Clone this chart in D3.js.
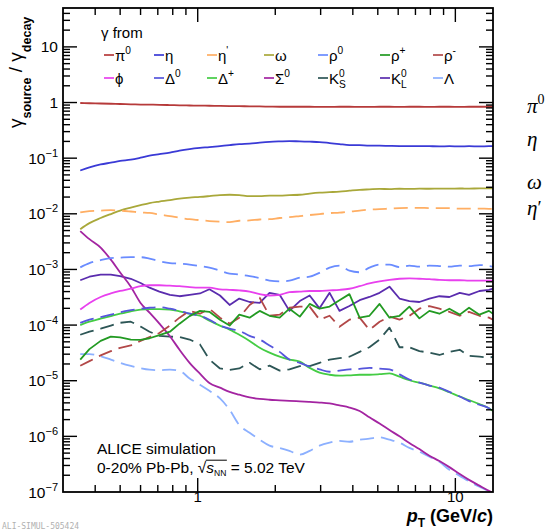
<!DOCTYPE html>
<html><head><meta charset="utf-8">
<script src="https://cdn.jsdelivr.net/npm/d3@7"></script>
<style>
body{margin:0;background:#fff;}
svg text{font-family:"Liberation Sans",Arial,Helvetica,sans-serif;fill:#000;}
</style>
</head><body>
<svg id="c" width="553" height="531"></svg>
<script>
// ---------------- data ----------------
const pT = [0.35,0.38,0.42,0.46,0.50,0.55,0.60,0.65,0.71,0.78,0.85,0.93,1.02,1.11,1.22,1.33,1.45,1.59,1.74,1.90,2.08,2.27,2.49,2.72,2.97,3.25,3.55,3.88,4.25,4.64,5.08,5.55,6.07,6.63,7.25,7.93,8.67,9.48,10.4,11.3,12.4,13.5,14.0];

const pi0 = [0.98,0.97,0.96,0.95,0.94,0.93,0.92,0.915,0.91,0.90,0.89,0.885,0.88,0.875,0.87,0.865,0.86,0.855,0.85,0.845,0.84,0.84,0.84,0.84,0.835,0.835,0.84,0.84,0.835,0.835,0.84,0.84,0.835,0.84,0.84,0.835,0.84,0.84,0.835,0.84,0.84,0.84,0.84];
const eta = [0.060,0.068,0.077,0.083,0.089,0.094,0.102,0.111,0.118,0.126,0.137,0.146,0.153,0.158,0.165,0.172,0.179,0.183,0.19,0.196,0.2,0.203,0.2,0.198,0.195,0.187,0.179,0.172,0.171,0.168,0.168,0.166,0.165,0.164,0.165,0.164,0.163,0.164,0.163,0.164,0.163,0.164,0.164];
const etaPrime = [1.06e-2,1.12e-2,1.14e-2,1.16e-2,1.14e-2,1.1e-2,1.06e-2,1.04e-2,9.7e-3,9.1e-3,8.5e-3,8.0e-3,7.7e-3,7.4e-3,7.2e-3,7.1e-3,7.5e-3,7.6e-3,7.9e-3,8.0e-3,8.4e-3,8.7e-3,9.1e-3,9.5e-3,9.9e-3,1.03e-2,1.05e-2,1.1e-2,1.14e-2,1.19e-2,1.21e-2,1.24e-2,1.27e-2,1.28e-2,1.28e-2,1.27e-2,1.27e-2,1.26e-2,1.24e-2,1.24e-2,1.24e-2,1.23e-2,1.23e-2];
const omega = [5.3e-3,6.8e-3,8.4e-3,9.9e-3,1.14e-2,1.29e-2,1.43e-2,1.56e-2,1.66e-2,1.76e-2,1.88e-2,1.96e-2,2.01e-2,2.08e-2,2.17e-2,2.2e-2,2.17e-2,2.08e-2,2.08e-2,2.13e-2,2.13e-2,2.17e-2,2.2e-2,2.31e-2,2.4e-2,2.45e-2,2.5e-2,2.6e-2,2.7e-2,2.75e-2,2.8e-2,2.78e-2,2.82e-2,2.8e-2,2.83e-2,2.82e-2,2.84e-2,2.83e-2,2.85e-2,2.84e-2,2.86e-2,2.86e-2,2.86e-2];
const rho0 = [1.09e-3,1.3e-3,1.47e-3,1.6e-3,1.63e-3,1.66e-3,1.66e-3,1.56e-3,1.41e-3,1.3e-3,1.27e-3,1.22e-3,1.15e-3,1.08e-3,9.5e-4,8.4e-4,8.1e-4,7.6e-4,7.0e-4,6.3e-4,6.1e-4,6.3e-4,7.1e-4,7.4e-4,8.7e-4,1.08e-3,1.17e-3,9.5e-4,8.9e-4,1.08e-3,1.22e-3,1.22e-3,1.1e-3,1.17e-3,1.12e-3,1.17e-3,1.15e-3,1.12e-3,1.17e-3,1.15e-3,1.2e-3,1.15e-3,1.12e-3];
const rhoPlus = [2.4e-5,3.7e-5,5.2e-5,6.2e-5,6.0e-5,5.5e-5,5.4e-5,5.8e-5,6.6e-5,7.6e-5,1.06e-4,1.45e-4,1.8e-4,1.73e-4,1.25e-4,9.8e-5,1.54e-4,1.36e-4,1.8e-4,1.47e-4,1.36e-4,1.97e-4,1.42e-4,2.4e-4,1.97e-4,2.15e-4,2.8e-4,3.6e-4,1.36e-4,1.47e-4,2.4e-4,1.36e-4,1.47e-4,2.15e-4,1.32e-4,1.8e-4,1.6e-4,1.97e-4,1.54e-4,2.05e-4,1.54e-4,1.8e-4,1.6e-4];
const rhoMinus = [1.86e-5,2.25e-5,2.85e-5,3.4e-5,3.9e-5,4.3e-5,5.2e-5,6.1e-5,7.2e-5,9.8e-5,1.36e-4,1.8e-4,1.6e-4,1.97e-4,1.36e-4,1.06e-4,1.36e-4,2.3e-4,3.1e-4,1.47e-4,1.54e-4,2.05e-4,2.15e-4,2.15e-4,1.25e-4,1.47e-4,9.3e-5,1.25e-4,1.36e-4,8.2e-5,1.15e-4,1.42e-4,1.25e-4,1.47e-4,1.97e-4,2.2e-4,1.97e-4,1.73e-4,1.47e-4,1.73e-4,1.47e-4,1.36e-4,1.25e-4];
const phi = [1.9e-4,2.5e-4,3.2e-4,3.7e-4,4.1e-4,4.5e-4,5.0e-4,5.2e-4,5.2e-4,5.1e-4,5.0e-4,4.8e-4,4.7e-4,4.7e-4,4.4e-4,4.3e-4,4.2e-4,4.0e-4,3.6e-4,3.4e-4,3.5e-4,3.9e-4,4.0e-4,4.1e-4,4.1e-4,4.2e-4,4.3e-4,4.5e-4,5.0e-4,5.6e-4,6.1e-4,6.5e-4,6.8e-4,6.9e-4,6.8e-4,6.7e-4,6.5e-4,6.4e-4,6.4e-4,6.3e-4,6.3e-4,6.3e-4,6.3e-4];
const delta0 = [1.1e-4,1.25e-4,1.39e-4,1.54e-4,1.7e-4,1.85e-4,1.97e-4,2.05e-4,2.1e-4,1.97e-4,1.8e-4,1.6e-4,1.47e-4,1.25e-4,9.8e-5,8.6e-5,7.9e-5,6.4e-5,5.5e-5,4.3e-5,3.3e-5,2.4e-5,2.1e-5,1.8e-5,1.6e-5,1.45e-5,1.52e-5,1.6e-5,1.63e-5,1.7e-5,1.65e-5,1.6e-5,1.3e-5,1.05e-5,9.2e-6,8.2e-6,7.5e-6,6.3e-6,5.2e-6,4.3e-6,3.7e-6,3.2e-6,2.9e-6];
const deltaPlus = [1.0e-4,1.15e-4,1.3e-4,1.45e-4,1.6e-4,1.77e-4,1.9e-4,1.93e-4,1.93e-4,1.9e-4,1.77e-4,1.6e-4,1.47e-4,1.2e-4,9.8e-5,8.3e-5,6.7e-5,5.2e-5,3.9e-5,3.2e-5,2.7e-5,2.4e-5,2.2e-5,1.7e-5,1.4e-5,1.28e-5,1.23e-5,1.25e-5,1.28e-5,1.28e-5,1.31e-5,1.36e-5,1.18e-5,1.02e-5,9.2e-6,8.2e-6,7.3e-6,6.2e-6,5.2e-6,4.5e-6,3.8e-6,3.2e-6,2.85e-6];
const sigma0 = [4.9e-3,3.5e-3,2.47e-3,1.5e-3,8.8e-4,4.9e-4,2.5e-4,1.67e-4,1.06e-4,6.3e-5,3.6e-5,2.1e-5,1.34e-5,9.1e-6,7.5e-6,6.3e-6,5.6e-6,5.0e-6,4.7e-6,4.55e-6,4.45e-6,4.35e-6,4.25e-6,4.15e-6,4.05e-6,3.9e-6,3.6e-6,3.3e-6,2.85e-6,2.2e-6,1.7e-6,1.3e-6,1.0e-6,7.6e-7,5.9e-7,4.5e-7,3.6e-7,2.8e-7,2.1e-7,1.65e-7,1.3e-7,1.05e-7,9.7e-8];
const k0S = [6.7e-5,7.6e-5,8.6e-5,9.8e-5,1.1e-4,1.15e-4,9.4e-5,7.6e-5,6.4e-5,6.2e-5,6.1e-5,5.5e-5,4.5e-5,2.4e-5,1.66e-5,1.56e-5,1.66e-5,2.1e-5,1.6e-5,1.87e-5,1.52e-5,1.6e-5,1.83e-5,1.83e-5,2.1e-5,2.4e-5,2.55e-5,2.7e-5,3.3e-5,4.0e-5,5.5e-5,9.0e-5,4.0e-5,4.0e-5,3.4e-5,3.2e-5,2.9e-5,3.3e-5,3.6e-5,2.8e-5,2.7e-5,2.6e-5,2.7e-5];
const k0L = [6.4e-4,7.4e-4,8.1e-4,8.1e-4,7.6e-4,6.8e-4,5.7e-4,4.7e-4,4.0e-4,3.5e-4,3.3e-4,3.5e-4,3.7e-4,4.4e-4,3.4e-4,2.3e-4,3.0e-4,2.6e-4,2.5e-4,3.8e-4,3.5e-4,1.8e-4,2.7e-4,3.4e-4,2.0e-4,3.8e-4,1.8e-4,2.2e-4,2.8e-4,3.2e-4,3.8e-4,4.9e-4,3.0e-4,2.7e-4,2.6e-4,3.0e-4,3.3e-4,3.2e-4,3.8e-4,3.5e-4,4.1e-4,4.3e-4,4.5e-4];
const lambda = [3.0e-5,3.0e-5,2.75e-5,2.4e-5,2.1e-5,1.85e-5,1.68e-5,1.58e-5,1.55e-5,1.58e-5,1.5e-5,1.1e-5,8.5e-6,6.6e-6,4.8e-6,3.0e-6,1.6e-6,1.16e-6,8.7e-7,6.8e-7,6.2e-7,5.5e-7,4.7e-7,5.5e-7,6.8e-7,7.7e-7,8.3e-7,8.0e-7,8.7e-7,9.1e-7,9.6e-7,8.7e-7,7.7e-7,6.2e-7,5.3e-7,4.3e-7,3.5e-7,2.5e-7,1.95e-7,1.55e-7,1.25e-7,1.05e-7,1.0e-7];

const yTickExponents = [-7,-6,-5,-4,-3,-2,-1,0,1];
const xTickLabels = [1,10];

// ---------------- setup ----------------
const svg = d3.select("#c");
const W = 553, H = 531;
const L = 63, R = 493, T = 8, B = 492;
const x = d3.scaleLog().domain([0.3, 14]).range([L, R]);
const y = d3.scaleLog().domain([1e-7, 50]).range([B, T]);

svg.append("rect").attr("width", W).attr("height", H).attr("fill", "#fff");
svg.append("defs").append("clipPath").attr("id", "clip")
  .append("rect").attr("x", L).attr("y", T).attr("width", R - L).attr("height", B - T);

const series = [
  {base:"π", sup:"0", sub:"", v:pi0, color:"#b63a3a", dash:null, smooth:true},
  {base:"η", sup:"", sub:"", v:eta, color:"#3a3ad6", dash:null, smooth:true},
  {base:"η", sup:"'", sub:"", v:etaPrime, color:"#ffae63", dash:"14,7", smooth:true},
  {base:"ω", sup:"", sub:"", v:omega, color:"#a9a83a", dash:null, smooth:true},
  {base:"ρ", sup:"0", sub:"", v:rho0, color:"#6a8cff", dash:"14,7", smooth:true},
  {base:"ρ", sup:"+", sub:"", v:rhoPlus, color:"#229a22", dash:null, smooth:false},
  {base:"ρ", sup:"-", sub:"", v:rhoMinus, color:"#b24848", dash:"14,7", smooth:false},
  {base:"ϕ", sup:"", sub:"", v:phi, color:"#e840ee", dash:null, smooth:true},
  {base:"Δ", sup:"0", sub:"", v:delta0, color:"#5656dc", dash:"14,7", smooth:true},
  {base:"Δ", sup:"+", sub:"", v:deltaPlus, color:"#44cc44", dash:null, smooth:true},
  {base:"Σ", sup:"0", sub:"", v:sigma0, color:"#a324a1", dash:null, smooth:true},
  {base:"K", sup:"0", sub:"S", v:k0S, color:"#2d5656", dash:"14,7", smooth:false},
  {base:"K", sup:"0", sub:"L", v:k0L, color:"#5a2cae", dash:null, smooth:false},
  {base:"Λ", sup:"", sub:"", v:lambda, color:"#8cb0ff", dash:"14,7", smooth:true}
];

// ---------------- curves ----------------
const gLines = svg.append("g").attr("clip-path", "url(#clip)");
series.slice().reverse().forEach(s => {
  const ln = d3.line().x((d, i) => x(pT[i])).y(d => y(d))
    .curve(s.smooth ? d3.curveMonotoneX : d3.curveLinear);
  gLines.append("path").attr("d", ln(s.v)).attr("fill", "none")
    .attr("stroke", s.color).attr("stroke-width", 1.8)
    .attr("stroke-linejoin", "round")
    .attr("stroke-dasharray", s.dash);
});

// ---------------- frame & ticks ----------------
const gAx = svg.append("g").attr("stroke", "#000").attr("stroke-width", 1.4);
const yt = y.ticks().filter(v => v > 1e-7 * 1.001 && v < 50 * 0.999);
yt.forEach(v => {
  const m = Math.round(v / Math.pow(10, Math.floor(Math.log10(v) + 1e-9)));
  const len = m === 1 ? 14 : 7;
  const py = y(v);
  gAx.append("line").attr("x1", L).attr("x2", L + len).attr("y1", py).attr("y2", py);
  gAx.append("line").attr("x1", R).attr("x2", R - len).attr("y1", py).attr("y2", py);
});
const xt = x.ticks().filter(v => v > 0.3 * 1.001 && v < 14 * 0.999);
xt.forEach(v => {
  const m = Math.round(v / Math.pow(10, Math.floor(Math.log10(v) + 1e-9)));
  const len = m === 1 ? 14 : 7;
  const px = x(v);
  gAx.append("line").attr("x1", px).attr("x2", px).attr("y1", B).attr("y2", B - len);
  gAx.append("line").attr("x1", px).attr("x2", px).attr("y1", T).attr("y2", T + len);
});
svg.append("rect").attr("x", L).attr("y", T).attr("width", R - L).attr("height", B - T)
  .attr("fill", "none").attr("stroke", "#000").attr("stroke-width", 1.8);

// y tick labels
yTickExponents.forEach(k => {
  const t = svg.append("text").attr("x", 58).attr("y", y(Math.pow(10, k)) + 5.5)
    .attr("text-anchor", "end").attr("font-size", 15.5);
  if (k === 0) t.text("1");
  else if (k === 1) t.text("10");
  else {
    t.append("tspan").text("10");
    t.append("tspan").attr("font-size", 11).attr("dy", -7).text("−" + (-k));
  }
});
// x tick labels
xTickLabels.forEach(v => {
  svg.append("text").attr("x", x(v)).attr("y", 502).attr("text-anchor", "middle")
    .attr("font-size", 15).text(String(v));
});

// axis titles
const ytl = svg.append("text").attr("transform", "translate(22,128) rotate(-90)").attr("font-size", 19);
ytl.append("tspan").text("γ");
ytl.append("tspan").attr("font-size", 12.5).attr("font-weight", "bold").attr("dy", 9).text("source");
ytl.append("tspan").attr("dy", -9).text(" / γ");
ytl.append("tspan").attr("font-size", 12.5).attr("font-weight", "bold").attr("dy", 9).text("decay");

const xtl = svg.append("text").attr("x", R).attr("y", 522).attr("text-anchor", "end")
  .attr("font-size", 18).attr("font-weight", "bold");
xtl.append("tspan").attr("font-style", "italic").text("p");
xtl.append("tspan").attr("font-size", 12).attr("dy", 5).text("T");
xtl.append("tspan").attr("dy", -5).text(" (GeV/");
xtl.append("tspan").attr("font-style", "italic").text("c");
xtl.append("tspan").text(")");

// ---------------- legend ----------------
svg.append("text").attr("x", 101).attr("y", 38).attr("font-size", 15).text("γ from");
const legCols = [104, 154, 207, 264, 318, 380, 433];
const legRows = [55, 78];
function addLabel(t, s, fs) {
  t.append("tspan").text(s.base);
  const supFs = fs * 0.68;
  if (s.sup) {
    t.append("tspan").attr("font-size", supFs).attr("dy", -fs * 0.42).text(s.sup);
    if (s.sub) {
      t.append("tspan").attr("font-size", supFs).attr("dx", -supFs * 0.556)
        .attr("dy", fs * 0.42 + fs * 0.3).text(s.sub);
    }
  } else if (s.sub) {
    t.append("tspan").attr("font-size", supFs).attr("dy", fs * 0.3).text(s.sub);
  }
}
series.forEach((s, i) => {
  const c = i % 7, r = Math.floor(i / 7);
  const lx = legCols[c], ly = legRows[r];
  svg.append("line").attr("x1", lx).attr("x2", lx + 10).attr("y1", ly).attr("y2", ly)
    .attr("stroke", s.color).attr("stroke-width", 1.7);
  const t = svg.append("text").attr("x", lx + 11).attr("y", ly + 5.5).attr("font-size", 15);
  addLabel(t, s, 15);
});

// ---------------- annotations ----------------
svg.append("text").attr("x", 97).attr("y", 454).attr("font-size", 15.5).text("ALICE simulation");
const t2 = svg.append("text").attr("x", 97).attr("y", 473).attr("font-size", 15.5);
t2.append("tspan").text("0-20% Pb-Pb, √");
t2.append("tspan").attr("font-style", "italic").text("s");
t2.append("tspan").attr("font-size", 8.5).attr("dy", 3).text("NN");
t2.append("tspan").attr("dy", -3).text(" = 5.02 TeV");
try {
  const node = t2.node();
  const a = node.getExtentOfChar(13), b = node.getExtentOfChar(16);
  svg.append("line").attr("x1", a.x + a.width - 0.5).attr("x2", b.x + b.width + 0.5)
    .attr("y1", a.y + 1.2).attr("y2", a.y + 1.2).attr("stroke", "#000").attr("stroke-width", 1);
} catch (e) {}

const rl = [
  {base:"π", sup:"0", y:113},
  {base:"η", sup:"", y:146},
  {base:"ω", sup:"", y:189},
  {base:"η", sup:"′", y:215}
];
rl.forEach(d => {
  const t = svg.append("text").attr("x", 527).attr("y", d.y).attr("font-size", 21)
    .attr("font-style", "italic").style("font-family", "'Liberation Serif','DejaVu Serif',serif");
  t.append("tspan").text(d.base);
  if (d.sup) t.append("tspan").attr("font-size", d.sup === "0" ? 14 : 19)
    .attr("dy", d.sup === "0" ? -9 : -1).attr("font-style", "normal").text(d.sup);
});

svg.append("text").attr("x", 2).attr("y", 529).attr("font-size", 8)
  .style("font-family", "'DejaVu Sans Mono',monospace")
  .style("fill", "#b0b0b0").text("ALI-SIMUL-505424");
</script>
</body></html>
